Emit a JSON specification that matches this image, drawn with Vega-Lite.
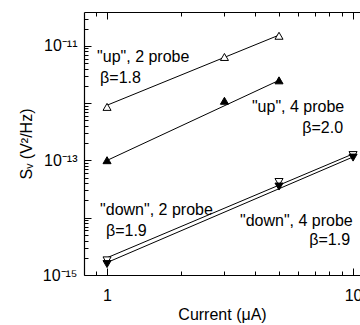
{
  "$schema": "https://vega.github.io/schema/vega-lite/v6.json",
  "width": 276,
  "height": 263,
  "autosize": "none",
  "padding": {"left": 84, "top": 12, "right": 0, "bottom": 50},
  "datasets": {
    "fits": [
      {"series": "up2", "current": 1, "sv": 9.2e-13},
      {"series": "up2", "current": 5, "sv": 1.54e-11},
      {"series": "up4", "current": 1, "sv": 1.0e-13},
      {"series": "up4", "current": 5, "sv": 2.5e-12},
      {"series": "down2", "current": 1, "sv": 2.0e-15},
      {"series": "down2", "current": 10, "sv": 1.3e-13},
      {"series": "down4", "current": 1, "sv": 1.65e-15},
      {"series": "down4", "current": 10, "sv": 1.15e-13}
    ],
    "points": [
      {"series": "up2", "dir": "up", "probe": "2 probe", "current": 1, "sv": 8.6e-13},
      {"series": "up2", "dir": "up", "probe": "2 probe", "current": 3, "sv": 6.4e-12},
      {"series": "up2", "dir": "up", "probe": "2 probe", "current": 5, "sv": 1.5e-11},
      {"series": "up4", "dir": "up", "probe": "4 probe", "current": 1, "sv": 1.01e-13},
      {"series": "up4", "dir": "up", "probe": "4 probe", "current": 3, "sv": 1.1e-12},
      {"series": "up4", "dir": "up", "probe": "4 probe", "current": 5, "sv": 2.5e-12},
      {"series": "down2", "dir": "down", "probe": "2 probe", "current": 1, "sv": 1.8e-15},
      {"series": "down2", "dir": "down", "probe": "2 probe", "current": 5, "sv": 4.2e-14},
      {"series": "down2", "dir": "down", "probe": "2 probe", "current": 10, "sv": 1.24e-13},
      {"series": "down4", "dir": "down", "probe": "4 probe", "current": 1, "sv": 1.55e-15},
      {"series": "down4", "dir": "down", "probe": "4 probe", "current": 5, "sv": 3.5e-14},
      {"series": "down4", "dir": "down", "probe": "4 probe", "current": 10, "sv": 1.12e-13}
    ],
    "notesLeft": [
      {"label": "\"up\", 2 probe", "current": 0.911, "sv": 6.35e-12},
      {"label": "β=1.8", "current": 0.937, "sv": 2.73e-12},
      {"label": "\"up\", 4 probe", "current": 3.88, "sv": 8.5e-13},
      {"label": "\"down\", 2 probe", "current": 0.937, "sv": 1.36e-14},
      {"label": "β=1.9", "current": 0.99, "sv": 5.83e-15},
      {"label": "\"down\", 4 probe", "current": 3.47, "sv": 8.7e-15}
    ],
    "notesRight": [
      {"label": "β=2.0", "current": 9.11, "sv": 3.66e-13},
      {"label": "β=1.9", "current": 9.72, "sv": 4.07e-15}
    ]
  },
  "layer": [
    {
      "data": {"name": "fits"},
      "mark": {"type": "line", "color": "black", "strokeWidth": 1},
      "encoding": {
        "x": {"field": "current", "type": "quantitative",
          "scale": {"type": "log", "domain": [0.806, 10.67], "nice": false},
          "axis": {"orient": "bottom", "values": [1, 10], "labelExpr": "datum.value < 5 ? '1' : '10'",
            "tickSize": -7, "labelPadding": 19, "labelFlush": false, "title": "Current (μA)", "titlePadding": 3}},
        "y": {"field": "sv", "type": "quantitative",
          "scale": {"type": "log", "domain": [1e-15, 3.9e-11], "nice": false},
          "axis": {"orient": "left", "values": [1e-15, 1e-14, 1e-13, 1e-12, 1e-11],
            "labelExpr": "datum.value < 5e-15 ? '10⁻¹⁵' : (datum.value > 5e-14 && datum.value < 5e-13) ? '10⁻¹³' : datum.value > 5e-12 ? '10⁻¹¹' : ''",
            "tickSize": -7, "labelPadding": 14, "title": "Sᵥ (V²/Hz)", "titlePadding": 8}},
        "detail": {"field": "series"}
      }
    },
    {
      "data": {"name": "points"},
      "transform": [{"filter": "datum.probe == '2 probe'"}],
      "mark": {"type": "point", "filled": true, "fill": "white", "stroke": "black", "strokeWidth": 1, "size": 65, "opacity": 1},
      "encoding": {
        "x": {"field": "current", "type": "quantitative",
          "axis": {"orient": "bottom", "values": [0.9, 2, 3, 4, 5, 6, 7, 8, 9], "labels": false, "domain": false, "tickSize": -4, "title": null}},
        "y": {"field": "sv", "type": "quantitative",
          "axis": {"orient": "left", "values": [2e-15, 3e-15, 4e-15, 5e-15, 6e-15, 7e-15, 8e-15, 9e-15, 2e-14, 3e-14, 4e-14, 5e-14, 6e-14, 7e-14, 8e-14, 9e-14, 2e-13, 3e-13, 4e-13, 5e-13, 6e-13, 7e-13, 8e-13, 9e-13, 2e-12, 3e-12, 4e-12, 5e-12, 6e-12, 7e-12, 8e-12, 9e-12, 2e-11, 3e-11], "labels": false, "domain": false, "tickSize": -4, "title": null}},
        "shape": {"field": "dir", "type": "nominal", "scale": {"domain": ["up", "down"], "range": ["triangle-up", "triangle-down"]}, "legend": null}
      }
    },
    {
      "data": {"name": "points"},
      "transform": [{"filter": "datum.probe == '4 probe'"}],
      "mark": {"type": "point", "filled": true, "fill": "black", "stroke": "black", "strokeWidth": 1, "size": 65, "opacity": 1},
      "encoding": {
        "x": {"field": "current", "type": "quantitative",
          "axis": {"orient": "top", "values": [1, 10], "labels": false, "domain": true, "tickSize": -7, "title": null}},
        "y": {"field": "sv", "type": "quantitative", "axis": null},
        "shape": {"field": "dir", "type": "nominal", "scale": {"domain": ["up", "down"], "range": ["triangle-up", "triangle-down"]}, "legend": null}
      }
    },
    {
      "data": {"name": "notesLeft"},
      "mark": {"type": "text", "align": "left", "baseline": "middle", "fontSize": 16, "font": "Liberation Sans", "color": "black"},
      "encoding": {
        "x": {"field": "current", "type": "quantitative",
          "axis": {"orient": "top", "values": [0.9, 2, 3, 4, 5, 6, 7, 8, 9], "labels": false, "domain": false, "tickSize": -4, "title": null}},
        "y": {"field": "sv", "type": "quantitative", "axis": null},
        "text": {"field": "label"}
      }
    },
    {
      "data": {"name": "notesRight"},
      "mark": {"type": "text", "align": "right", "baseline": "middle", "fontSize": 16, "font": "Liberation Sans", "color": "black"},
      "encoding": {
        "x": {"field": "current", "type": "quantitative", "axis": null},
        "y": {"field": "sv", "type": "quantitative", "axis": null},
        "text": {"field": "label"}
      }
    }
  ],
  "resolve": {"axis": {"x": "independent", "y": "independent"}},
  "config": {
    "view": {"stroke": null},
    "axis": {"grid": false, "domainColor": "black", "domainWidth": 1.2, "tickColor": "black", "tickWidth": 1,
      "labelColor": "black", "titleColor": "black", "labelFont": "Liberation Sans", "titleFont": "Liberation Sans",
      "labelFontSize": 16, "titleFontSize": 16, "titleFontWeight": "normal"}
  }
}
